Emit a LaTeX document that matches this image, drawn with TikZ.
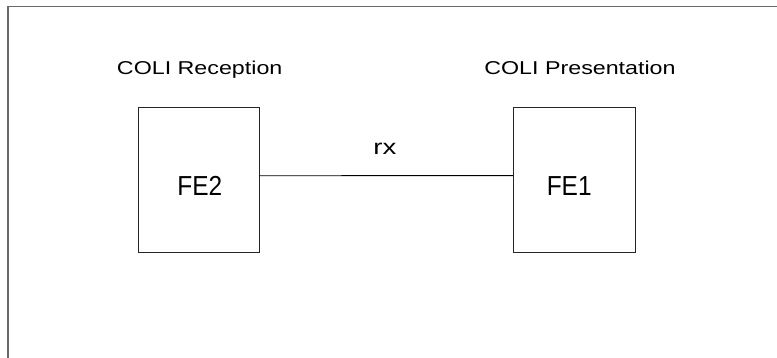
\documentclass[tikz,border=0pt]{standalone}
\usepackage{fontspec}
\setmainfont{Liberation Sans}
\newfontfamily\lblfont[FakeStretch=1.25]{Liberation Sans}
\newfontfamily\fefont[FakeStretch=0.89]{Liberation Sans}
\newfontfamily\rxfont[FakeStretch=1.3]{Liberation Sans}
\definecolor{framegray}{RGB}{105,105,105}
\tikzset{
  febox/.style={draw=black!85, line width=0.9pt, inner sep=0pt},
  title/.style={anchor=base, inner sep=0pt, font=\lblfont\fontsize{18.6}{20}\selectfont},
  felabel/.style={anchor=base, inner sep=0pt, font=\fefont\fontsize{27.5}{30}\selectfont},
  rxlabel/.style={anchor=base, inner sep=0pt, font=\rxfont\fontsize{21.2}{24}\selectfont},
  link/.style={draw=black, line width=0.9pt}
}
\begin{document}
\begin{tikzpicture}[x=1pt,y=-1pt]
\useasboundingbox[fill=white] (0,0) rectangle (777,358);
% frame
\coordinate (fl) at (8,358);
\coordinate (fc) at (8,6.5);
\coordinate (fr) at (777,6.5);
\draw[framegray, line width=1.8pt] (fl) -- (fc) -- (fr);
% boxes
\node[febox, minimum width=121pt, minimum height=144.7pt] (FE2) at (198.5,179.65) {};
\node[febox, minimum width=121.7pt, minimum height=145pt] (FE1) at (574.15,179.5) {};
% texts
\node[felabel] (t2) at (199.9,195.7) {FE2};
\node[felabel] (t1) at (569.2,195.7) {FE1};
\node[title] (rec) at (199.7,75) {COLI Reception};
\node[title] (pre) at (580,75) {COLI Presentation};
% connector
\draw[link] ([yshift=3.9pt]FE2.east) -- ([yshift=3.9pt]FE1.west);
\node[rxlabel] (rxl) at (384.9,155) {rx};
\end{tikzpicture}
\end{document}
